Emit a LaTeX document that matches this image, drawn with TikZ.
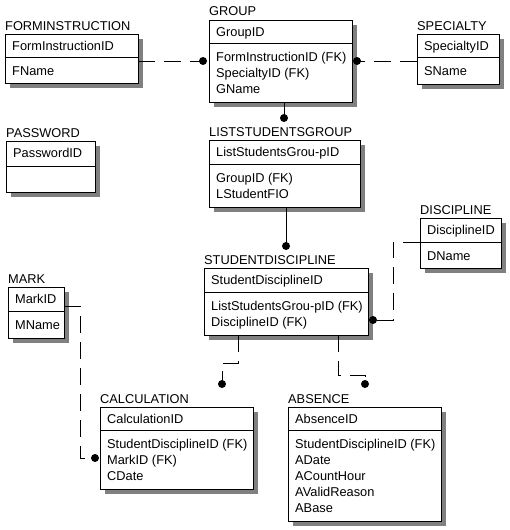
\documentclass[tikz,border=0pt]{standalone}
\usepackage{fontspec}
\setmainfont{Liberation Sans}
\usetikzlibrary{calc}
\tikzset{
  shadowfill/.style={fill=black!50, draw=none},
  box/.style={draw=black, line width=1pt, fill=white, inner sep=0pt, outer sep=0pt},
  ttl/.style={inner sep=0pt, font=\fontsize{12.8pt}{15pt}\selectfont},
  txt/.style={inner sep=0pt, font=\fontsize{12.8pt}{15pt}\selectfont},
  rel/.style={line width=1pt, dash pattern=on 17pt off 9pt},
  idrel/.style={line width=1pt},
  dot/.style={circle, fill=black, inner sep=0pt, minimum size=8pt}
}
\newcommand\entity[9]{%
  \fill[shadowfill] (#2+5,#3+5) rectangle ++(#4,#6);
  \node[box, minimum width=#4pt, minimum height=#6pt, anchor=north west] (#1) at (#2,#3) {};
  \draw[line width=1pt] ($(#1.north west)+(0,#5)$) -- ($(#1.north east)+(0,#5)$);
  \node[ttl, anchor=base west] (#1-title) at (#2,#3-4) {#7};
  \node[txt, anchor=base west] (#1-key) at (#2+7,#3+16.5) {#8};
  \foreach \a [count=\i] in {#9} {
    \node[txt, anchor=base west] (#1-a\i) at (#2+7,#3+#5+18+16*\i-16) {\a};
  }
}
\begin{document}
\begin{tikzpicture}[x=1pt, y=-1pt]
\useasboundingbox[fill=white] (0,0) rectangle (509,530);
\entity{fi}{5}{34}{133}{23}{49}{FORMINSTRUCTION}{FormInstructionID}{FName}
\entity{grp}{209}{20}{143}{23}{82}{GROUP}{GroupID}{FormInstructionID (FK),SpecialtyID (FK),GName}
\entity{spec}{417}{34}{82}{23}{50}{SPECIALTY}{SpecialtyID}{SName}
\entity{pwd}{6}{141}{89}{25}{51}{PASSWORD}{PasswordID}{}
\entity{lsg}{209}{140}{151}{24}{67}{LISTSTUDENTSGROUP}{ListStudentsGrou-pID}{GroupID (FK),LStudentFIO}
\entity{disc}{420}{218}{81}{24}{50}{DISCIPLINE}{DisciplineID}{DName}
\entity{sd}{204}{268}{164}{24}{67}{STUDENTDISCIPLINE}{StudentDisciplineID}{ListStudentsGrou-pID (FK),DisciplineID (FK)}
\entity{mark}{8}{287}{56}{24}{51}{MARK}{MarkID}{MName}
\entity{calcn}{100}{407}{153}{23}{82}{CALCULATION}{CalculationID}{StudentDisciplineID (FK),MarkID (FK),CDate}
\entity{abs}{288}{407}{153}{23}{114}{ABSENCE}{AbsenceID}{StudentDisciplineID (FK),ADate,ACountHour,AValidReason,ABase}

% FORMINSTRUCTION -> GROUP
\coordinate (fiS) at ($(fi.north east)+(0,27)$);
\node[dot] (d1) at ($(grp.north west)+(-6,41)$) {};
\draw[rel] (fiS) -- (d1.center);
% SPECIALTY -> GROUP
\coordinate (spS) at ($(spec.north west)+(0,27)$);
\node[dot] (d2) at ($(grp.north east)+(5,41)$) {};
\draw[rel] (spS) -- (d2.center);
% GROUP -> LISTSTUDENTSGROUP
\coordinate (gS) at ($(grp.south west)+(75,0)$);
\node[dot] (d3) at ($(grp.south west)+(75,16)$) {};
\draw[idrel] (gS) -- (d3.center);
% LISTSTUDENTSGROUP -> STUDENTDISCIPLINE
\coordinate (lS) at ($(lsg.south west)+(77,0)$);
\node[dot] (d4) at ($(sd.north west)+(82,-22)$) {};
\draw[idrel] (lS) -- (lS |- d4.center);
% DISCIPLINE -> STUDENTDISCIPLINE
\coordinate (dS) at ($(disc.north west)+(0,24)$);
\node[dot] (d5) at ($(sd.north east)+(5,52)$) {};
\draw[rel] (dS) -- ++(-27,0) |- (d5.center);
% STUDENTDISCIPLINE -> CALCULATION
\coordinate (sdC) at ($(sd.south west)+(34,0)$);
\node[dot] (d6) at ($(calcn.north west)+(122,-23)$) {};
\draw[rel] (sdC) -- ++(0,28) -| (d6.center);
% STUDENTDISCIPLINE -> ABSENCE
\coordinate (sdA) at ($(sd.south west)+(134,0)$);
\node[dot] (d7) at ($(abs.north west)+(77,-23)$) {};
\draw[rel] (sdA) -- ++(0,40) -| (d7.center);
% MARK -> CALCULATION
\coordinate (mS) at ($(mark.north east)+(0,19)$);
\node[dot] (d8) at ($(calcn.north west)+(-5,51)$) {};
\draw[rel] (mS) -- ++(16,0) |- (d8.center);
\end{tikzpicture}
\end{document}
